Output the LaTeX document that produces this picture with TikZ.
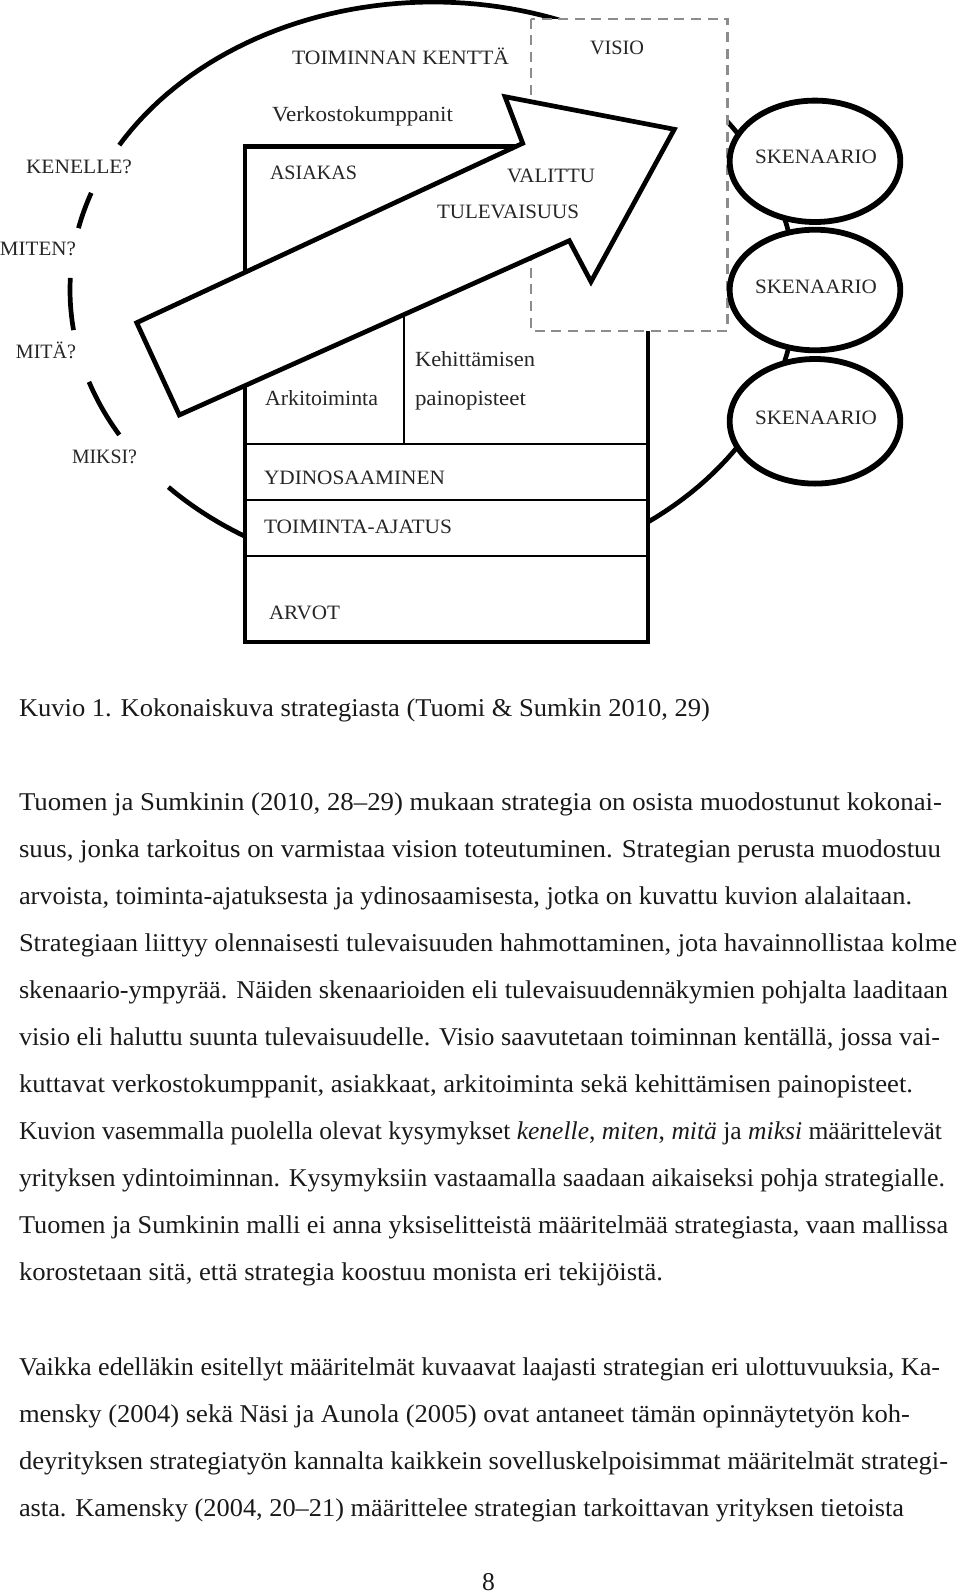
\documentclass[tikz,border=0pt]{standalone}
\usepackage{fontspec}
\usepackage{graphicx}
\setmainfont{Liberation Serif}
\newsavebox\fitbox
\newcommand\fitto[2]{\sbox\fitbox{#2}\edef\natw{\the\wd\fitbox}\pgfmathsetmacro\fitfac{#1*0.5/\natw}\scalebox{\fitfac}[1]{\usebox\fitbox}}
\begin{document}
\begin{tikzpicture}[x=0.5pt,y=-0.5pt,
  bigline/.style={line width=2.35pt},
  boxline/.style={line width=2.35pt},
  thinline/.style={line width=0.85pt},
  scenline/.style={line width=2.9pt},
  dashline/.style={line width=1.15pt, draw=black!45, dash pattern=on 5pt off 3.3pt},
  lab/.style={font=\fontsize{10.2}{12}\selectfont, anchor=base west, inner sep=0pt, outer sep=0pt, text=black!85},
  labm/.style={lab, font=\fontsize{10.8}{12}\selectfont},
  body/.style={font=\fontsize{12.8}{15}\selectfont, anchor=base west, inner sep=0pt, outer sep=0pt, text=black!90}]
\useasboundingbox (0,0) rectangle (960,1595);
% big ellipse (toiminnan kentta)
\draw[bigline] plot[domain=223.2:509.8, samples=160] ({433+363*cos(\x)},{290-288*sin(\x)});
\draw[bigline] plot[domain=160.3:167.6, samples=10] ({433+363*cos(\x)},{290-288*sin(\x)});
\draw[bigline] plot[domain=177.6:188, samples=12] ({433+363*cos(\x)},{290-288*sin(\x)});
\draw[bigline] plot[domain=198.6:210.2, samples=12] ({433+363*cos(\x)},{290-288*sin(\x)});
% main box
\draw[boxline, fill=white] (245,146.5) rectangle (648,642);
\draw[thinline] (245,444.3) -- (648,444.3);
\draw[thinline] (245,500.2) -- (648,500.2);
\draw[thinline] (245,556.2) -- (648,556.2);
\draw[thinline] (404.3,300) -- (404.3,444.3);
% vision box
\draw[dashline, fill=white] (531.3,18.7) rectangle (727.4,330.7);
% arrow
\draw[boxline, fill=white, line join=miter] (136.7,322.7) -- (522.7,143.3) -- (505,96.7) -- (674.3,129.3) -- (591,281.7) -- (569.3,240.7) -- (179.3,415) -- cycle;
% scenarios
\draw[scenline, fill=white] (815,161.3) ellipse [x radius=85.3, y radius=60.7];
\draw[scenline, fill=white] (815,290) ellipse [x radius=85.3, y radius=60.3];
\draw[scenline, fill=white] (815,421.3) ellipse [x radius=85.3, y radius=62.3];
% labels
\node[lab] (tk) at (292,65) {\fitto{217}{TOIMINNAN KENTTÄ}};
\node[lab] (vis) at (590,55) {\fitto{54}{VISIO}};
\node[labm] (verk) at (272,121) {\fitto{181}{Verkostokumppanit}};
\node[lab] (ken) at (26,173) {\fitto{106}{KENELLE?}};
\node[lab] (asi) at (270,179) {\fitto{87}{ASIAKAS}};
\node[lab] (val) at (507,183) {\fitto{88}{VALITTU}};
\node[lab] (tul) at (437,218) {\fitto{142}{TULEVAISUUS}};
\node[lab] (sk1) at (755,163) {\fitto{122}{SKENAARIO}};
\node[lab] (sk2) at (755,293) {\fitto{122}{SKENAARIO}};
\node[lab] (sk3) at (755,424) {\fitto{122}{SKENAARIO}};
\node[lab] (mit) at (0,255) {\fitto{76}{MITEN?}};
\node[lab] (mita) at (16,358) {\fitto{60}{MITÄ?}};
\node[lab] (mik) at (72,463) {\fitto{65}{MIKSI?}};
\node[labm] (ark) at (265,405) {\fitto{113}{Arkitoiminta}};
\node[labm] (keh) at (415,366) {\fitto{120}{Kehittämisen}};
\node[labm] (pai) at (415,405) {\fitto{111}{painopisteet}};
\node[lab] (ydi) at (264,484) {\fitto{181}{YDINOSAAMINEN}};
\node[lab] (toi) at (264,533) {\fitto{188}{TOIMINTA-AJATUS}};
\node[lab] (arv) at (269,619) {\fitto{71}{ARVOT}};
% caption and body
\node[body] (cap) at (19,716) {\fitto{691}{Kuvio 1. Kokonaiskuva strategiasta (Tuomi \& Sumkin 2010, 29)}};
\node[body] (l1) at (19,810) {\fitto{923}{Tuomen ja Sumkinin (2010, 28–29) mukaan strategia on osista muodostunut kokonai-}};
\node[body] (l2) at (19,857) {\fitto{922}{suus, jonka tarkoitus on varmistaa vision toteutuminen. Strategian perusta muodostuu}};
\node[body] (l3) at (19,904) {\fitto{893}{arvoista, toiminta-ajatuksesta ja ydinosaamisesta, jotka on kuvattu kuvion alalaitaan.}};
\node[body] (l4) at (19,951) {\fitto{938}{Strategiaan liittyy olennaisesti tulevaisuuden hahmottaminen, jota havainnollistaa kolme}};
\node[body] (l5) at (19,998) {\fitto{929}{skenaario-ympyrää. Näiden skenaarioiden eli tulevaisuudennäkymien pohjalta laaditaan}};
\node[body] (l6) at (19,1045) {\fitto{921}{visio eli haluttu suunta tulevaisuudelle. Visio saavutetaan toiminnan kentällä, jossa vai-}};
\node[body] (l7) at (19,1092) {\fitto{894}{kuttavat verkostokumppanit, asiakkaat, arkitoiminta sekä kehittämisen painopisteet.}};
\node[body] (l8) at (19,1139) {\fitto{923}{Kuvion vasemmalla puolella olevat kysymykset \textit{kenelle}, \textit{miten}, \textit{mitä} ja \textit{miksi} määrittelevät}};
\node[body] (l9) at (19,1186) {\fitto{926}{yrityksen ydintoiminnan. Kysymyksiin vastaamalla saadaan aikaiseksi pohja strategialle.}};
\node[body] (l10) at (19,1233) {\fitto{929}{Tuomen ja Sumkinin malli ei anna yksiselitteistä määritelmää strategiasta, vaan mallissa}};
\node[body] (l11) at (19,1280) {\fitto{644}{korostetaan sitä, että strategia koostuu monista eri tekijöistä.}};
\node[body] (m1) at (19,1375) {\fitto{921}{Vaikka edelläkin esitellyt määritelmät kuvaavat laajasti strategian eri ulottuvuuksia, Ka-}};
\node[body] (m2) at (19,1422) {\fitto{891}{mensky (2004) sekä Näsi ja Aunola (2005) ovat antaneet tämän opinnäytetyön koh-}};
\node[body] (m3) at (19,1469) {\fitto{929}{deyrityksen strategiatyön kannalta kaikkein sovelluskelpoisimmat määritelmät strategi-}};
\node[body] (m4) at (19,1516) {\fitto{885}{asta. Kamensky (2004, 20–21) määrittelee strategian tarkoittavan yrityksen tietoista}};
\node[body] (pg) at (482,1590) {8};
\end{tikzpicture}
\end{document}
